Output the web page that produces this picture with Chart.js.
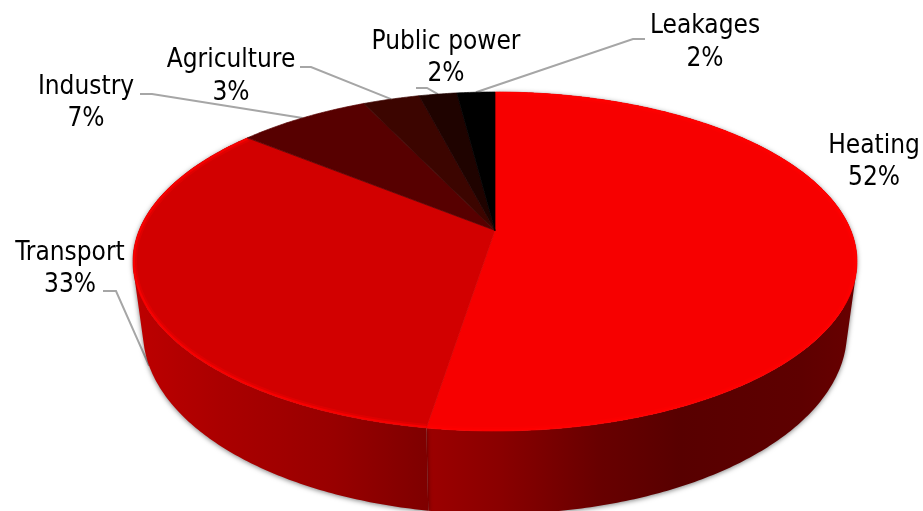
<!DOCTYPE html>
<html>
<head>
<meta charset="utf-8">
<style>
    html, body { margin: 0; background: #fff; }
    canvas { display: block; }
</style>
<script src="https://cdn.jsdelivr.net/npm/chart.js@4/dist/chart.umd.js"></script>
</head>
<body>
<canvas id="emissions-pie" width="923" height="511"></canvas>
<script>
const categories = ['Heating', 'Transport', 'Industry', 'Agriculture', 'Public power', 'Leakages'];
const shares = [52, 33, 7, 3, 2, 2];
const faceColors = ['#f70000', '#d20000', '#570000', '#3c0500', '#1f0300', '#000000'];

// rim highlight and side wall shades, only the two front slices show a wall
const rimColors = ['#ff0000', '#fa0000', null, null, null, null];
const wallShades = [
    [[0, '#9c0000'], [0.17, '#8a0000'], [0.4, '#680000'], [0.59, '#580000'], [0.87, '#5e0000'], [1, '#680000']],
    [[0, '#bd0000'], [0.3, '#aa0000'], [0.68, '#980000'], [1, '#7e0000']]
];

// centre of each label, text baselines and the elbow of its leader line
const labelSpots = [
    { x: 874, y: [153, 185] },
    { x: 70, y: [260, 292], line: [[103, 291], [116, 291]], toBase: true },
    { x: 86, y: [94, 126], line: [[140, 94], [152, 94]] },
    { x: 231, y: [67, 100], line: [[300, 67], [311, 67]] },
    { x: 446, y: [49, 81], line: [[416, 88], [427, 88]] },
    { x: 705, y: [33, 66], line: [[645, 39], [633, 39]] }
];

const topRim = { cx: 495, cy: 261.5, rx: 362, ry: 169.5 };
const baseRim = { cx: 495, cy: 332, rx: 352, ry: 182 };
const tilt = 0.183; // how far the apex sits behind the middle of the rim

// angle around the pie -> point on the disc seen in perspective
function project(angle, rim) {
    const u = Math.cos(angle);
    const v = -Math.sin(angle);
    const d = 1 + tilt * v;
    return {
        x: rim.cx + rim.rx * u * Math.sqrt(1 - tilt * tilt) / d,
        y: rim.cy - rim.ry * (v + tilt) / d
    };
}

function apex() {
    return { x: topRim.cx, y: topRim.cy - topRim.ry * tilt };
}

function anglesBetween(start, end) {
    const steps = Math.max(2, Math.ceil((end - start) * 90));
    const out = [];
    for (let i = 0; i <= steps; i++) out.push(start + (end - start) * i / steps);
    return out;
}

class TiltedArc extends Chart.ArcElement {
    static id = 'tiltedArc';

    tracePath(ctx) {
        const { startAngle, endAngle } = this.getProps(['startAngle', 'endAngle']);
        const tip = apex();
        ctx.beginPath();
        ctx.moveTo(tip.x, tip.y);
        anglesBetween(startAngle, endAngle).forEach(a => {
            const p = project(a, topRim);
            ctx.lineTo(p.x, p.y);
        });
        ctx.closePath();
    }

    drawWall(ctx, shades) {
        const { startAngle, endAngle } = this.getProps(['startAngle', 'endAngle']);
        const angles = anglesBetween(startAngle, endAngle);
        const top = angles.map(a => project(a, topRim));
        const base = angles.map(a => project(a, baseRim));
        const xs = top.concat(base).map(p => p.x);
        const gradient = ctx.createLinearGradient(Math.min(...xs), 0, Math.max(...xs), 0);
        shades.forEach(s => gradient.addColorStop(s[0], s[1]));

        ctx.save();
        ctx.fillStyle = gradient;
        ctx.shadowColor = 'rgba(0, 0, 0, 0.5)';
        ctx.shadowBlur = 5;
        ctx.shadowOffsetY = 1;
        ctx.beginPath();
        for (let i = 0; i < angles.length - 1; i++) {
            let quad = [top[i], top[i + 1], base[i + 1], base[i]];
            // keep every quad wound the same way so overlaps don't cancel out
            let area = 0;
            quad.forEach((p, j) => {
                const q = quad[(j + 1) % 4];
                area += p.x * q.y - q.x * p.y;
            });
            if (area < 0) quad = quad.reverse();
            ctx.moveTo(quad[0].x, quad[0].y);
            quad.slice(1).forEach(p => ctx.lineTo(p.x, p.y));
            ctx.closePath();
        }
        ctx.fill();
        ctx.restore();
    }

    draw(ctx) {
        const { startAngle, endAngle } = this.getProps(['startAngle', 'endAngle']);
        this.tracePath(ctx);
        ctx.fillStyle = this.options.backgroundColor;
        ctx.fill();
        // hairline in the same colour closes the seams between neighbours
        ctx.strokeStyle = this.options.backgroundColor;
        ctx.lineWidth = 0.7;
        ctx.stroke();

        const rim = rimColors[this.$context ? this.$context.dataIndex : 0];
        if (!rim) return;
        ctx.save();
        this.tracePath(ctx);
        ctx.clip();
        ctx.strokeStyle = rim;
        ctx.beginPath();
        anglesBetween(startAngle, endAngle).forEach((a, i) => {
            const p = project(a, topRim);
            if (i === 0) ctx.moveTo(p.x, p.y);
            else ctx.lineTo(p.x, p.y);
        });
        ctx.globalAlpha = 0.35;
        ctx.lineWidth = 8;
        ctx.stroke();
        ctx.globalAlpha = 0.9;
        ctx.lineWidth = 4;
        ctx.stroke();
        ctx.restore();
    }
}

class TiltedPie extends Chart.PieController {
    static id = 'tiltedPie';
    static defaults = { dataElementType: 'tiltedArc' };

    draw() {
        // walls first, every face has to end up on top of them
        this._cachedMeta.data.forEach((el, i) => {
            if (wallShades[i]) el.drawWall(this.chart.ctx, wallShades[i]);
        });
        super.draw();
    }
}

Chart.register(TiltedArc, TiltedPie);

const leaderLines = {
    id: 'leaderLines',
    beforeDatasetsDraw(chart) {
        const ctx = chart.ctx;
        const arcs = chart.getDatasetMeta(0).data;
        ctx.save();
        ctx.strokeStyle = '#a6a6a6';
        ctx.lineWidth = 2;
        labelSpots.forEach((spot, i) => {
            if (!spot.line) return;
            const { startAngle, endAngle } = arcs[i].getProps(['startAngle', 'endAngle']);
            const end = project((startAngle + endAngle) / 2, spot.toBase ? baseRim : topRim);
            ctx.beginPath();
            ctx.moveTo(spot.line[0][0], spot.line[0][1]);
            ctx.lineTo(spot.line[1][0], spot.line[1][1]);
            ctx.lineTo(end.x, end.y);
            ctx.stroke();
        });
        ctx.restore();
    }
};

const sliceLabels = {
    id: 'sliceLabels',
    afterDatasetsDraw(chart) {
        const ctx = chart.ctx;
        ctx.save();
        ctx.font = '26px "DejaVu Sans Condensed", "DejaVu Sans", sans-serif';
        ctx.fillStyle = '#000';
        ctx.textAlign = 'center';
        ctx.textBaseline = 'alphabetic';
        labelSpots.forEach((spot, i) => {
            ctx.fillText(categories[i], spot.x, spot.y[0]);
            ctx.fillText(shares[i] + '%', spot.x, spot.y[1]);
        });
        ctx.restore();
    }
};

new Chart(document.getElementById('emissions-pie').getContext('2d'), {
    type: 'tiltedPie',
    data: {
        labels: categories,
        datasets: [{
            data: shares,
            backgroundColor: faceColors,
            borderWidth: 0
        }]
    },
    options: {
        responsive: false,
        animation: false,
        plugins: {
            legend: { display: false },
            tooltip: { enabled: false }
        }
    },
    plugins: [leaderLines, sliceLabels]
});
</script>
</body>
</html>
